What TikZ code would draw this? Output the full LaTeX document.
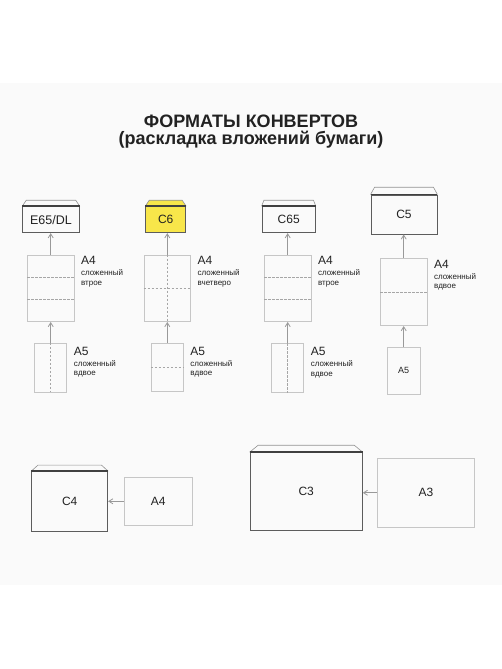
\documentclass[tikz,border=0pt]{standalone}
\usepackage{fontspec}
\setmainfont{Liberation Sans}
\usetikzlibrary{arrows.meta, positioning, calc}

\definecolor{envyellow}{HTML}{F8E64A}
\definecolor{bandgray}{HTML}{FAFAFA}
\definecolor{paperline}{HTML}{C6C6C6}
\definecolor{envline}{HTML}{5C5C5C}
\definecolor{inktext}{HTML}{222222}

\tikzset{
  paper/.style={draw=paperline, line width=0.7pt, inner sep=0pt, text=inktext},
  envbox/.style={draw=envline, line width=0.9pt, inner sep=0pt, text=inktext,
    font=\fontsize{12}{12}\selectfont},
  flap/.style={draw=gray!85, line width=0.6pt},
  envtop/.style={draw=black!75, line width=1.6pt},
  fold/.style={draw=gray!70, line width=0.5pt, dash pattern=on 2.5pt off 1.5pt},
  feed/.style={draw=gray!80, line width=0.8pt, -{Straight Barb[length=4pt,width=5pt]}},
  biglbl/.style={inner sep=0pt, anchor=north west, text=inktext, font=\fontsize{12}{14}\selectfont},
  smalllbl/.style={inner sep=0pt, anchor=north west, align=left, text=inktext,
    font=\fontsize{8}{9.7}\selectfont},
}

% flap on top of an envelope node: name, inset, height
\newcommand{\envflap}[3]{%
  \draw[flap] (#1.north west) -- ++(#2,#3) -- ($(#1.north east)+(-#2,#3)$) -- (#1.north east);
  \draw[envtop] (#1.north west) -- (#1.north east);}

\begin{document}
\begin{tikzpicture}[x=1pt, y=1pt]
    \useasboundingbox (0,0) rectangle (502,669);
    % Background band
    \fill[bandgray] (0,84) rectangle (502,586);

    % Title
    \node[anchor=base, font=\fontsize{18}{18}\selectfont\bfseries, text=inktext] (title) at (251,541.7) {ФОРМАТЫ КОНВЕРТОВ};
    \node[anchor=base, font=\fontsize{18}{18}\selectfont\bfseries, text=inktext] (subtitle) at (251,524) {(раскладка вложений бумаги)};

    % Envelopes, top row
    \node[envbox, minimum width=56.6, minimum height=26, font=\fontsize{12.5}{13}\selectfont] (envdl) at (51,449.3) {E65/DL};
    \node[envbox, fill=envyellow, minimum width=40, minimum height=26] (envcsix) at (165.7,449.3) {C6};
    \node[envbox, minimum width=53.3, minimum height=26] (envcsixfive) at (288.7,449.3) {C65};
    \node[envbox, minimum width=66, minimum height=39] (envcfive) at (404,454.5) {C5};
    \fill[envyellow] (envcsix.north west) -- ++(4,6) -- ($(envcsix.north east)+(-4,6)$) -- (envcsix.north east) -- cycle;
    \envflap{envdl}{4}{6}
    \envflap{envcsix}{4}{6}
    \envflap{envcsixfive}{2.3}{6}
    \envflap{envcfive}{4}{7.3}

    % A4 sheets
    \node[paper, minimum width=46.7, minimum height=66.7] (a4one) at (50.7,380.7) {};
    \node[paper, minimum width=46.7, minimum height=66.7] (a4two) at (167.3,380.7) {};
    \node[paper, minimum width=46.7, minimum height=66.7] (a4three) at (287.7,380.7) {};
    \node[paper, minimum width=46.7, minimum height=67.4] (a4four) at (403.7,377) {};

    % A5 sheets
    \node[paper, minimum width=32, minimum height=48.7] (a5one) at (50.7,301.3) {};
    \node[paper, minimum width=32, minimum height=48.7] (a5two) at (167.3,301.5) {};
    \node[paper, minimum width=32, minimum height=48.7] (a5three) at (287.7,300.8) {};
    \node[paper, minimum width=33.3, minimum height=46.3, font=\fontsize{9}{10}\selectfont] (a5four) at (403.7,298.2) {A5};

    % Folds
    \foreach \sheet in {a4one, a4three} {
      \draw[fold] ($(\sheet.north west)!1/3!(\sheet.south west)$) -- ($(\sheet.north east)!1/3!(\sheet.south east)$);
      \draw[fold] ($(\sheet.north west)!2/3!(\sheet.south west)$) -- ($(\sheet.north east)!2/3!(\sheet.south east)$);
    }
    \foreach \sheet in {a4two, a4four, a5two}
      \draw[fold] (\sheet.west) -- (\sheet.east);
    \foreach \sheet in {a4two, a5one, a5three}
      \draw[fold] (\sheet.north) -- (\sheet.south);

    % Arrows
    \foreach \low/\high/\env in {a5one/a4one/envdl, a5two/a4two/envcsix, a5three/a4three/envcsixfive, a5four/a4four/envcfive} {
      \draw[feed] (\low.north) -- (\high.south);
      \draw[feed] (\high.north) -- (\high.north |- \env.south);
    }

    % Labels
    \foreach \sheet/\how in {a4one/втрое, a4two/вчетверо, a4three/втрое, a4four/вдвое} {
      \node[biglbl] (\sheet lbl) at ([xshift=6.5, yshift=-1.7]\sheet.north east) {A4};
      \node[smalllbl] (\sheet how) at ([yshift=-4.6]\sheet lbl.south west) {сложенный\\\how};
    }
    \foreach \sheet in {a5one, a5two, a5three} {
      \node[biglbl] (\sheet lbl) at ([xshift=6.6, yshift=-4]\sheet.north east) {A5};
      \node[smalllbl] (\sheet how) at ([yshift=-4.3]\sheet lbl.south west) {сложенный\\вдвое};
    }

    % Bottom row
    \node[envbox, minimum width=76, minimum height=60.3] (envcfour) at (69.7,167.2) {C4};
    \node[envbox, minimum width=112.3, minimum height=78] (envcthree) at (306.2,177.3) {C3};
    \envflap{envcfour}{6.6}{6}
    \envflap{envcthree}{8.5}{7}
    \node[paper, minimum width=68.7, minimum height=48, font=\fontsize{12}{12}\selectfont] (a4low) at (158.3,167.7) {A4};
    \node[paper, minimum width=96.7, minimum height=69, font=\fontsize{12}{12}\selectfont] (a3low) at (426,176.2) {A3};
    \draw[feed] (a4low.west) -- (a4low.west -| envcfour.east);
    \draw[feed] (a3low.west) -- (a3low.west -| envcthree.east);
\end{tikzpicture}
\end{document}
